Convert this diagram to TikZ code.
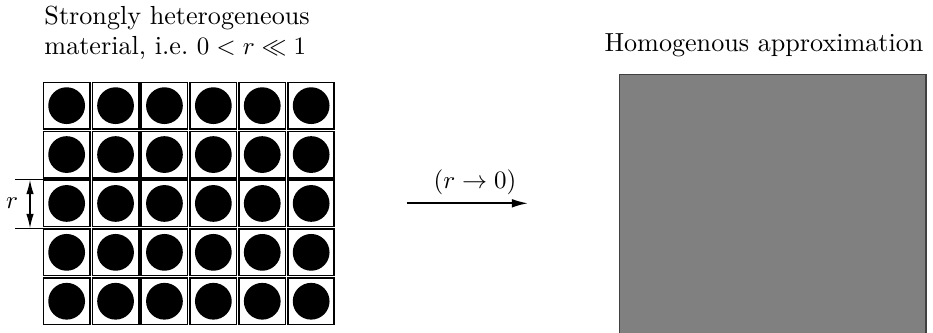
\documentclass[tikz,border=0pt]{standalone}
\usetikzlibrary{arrows.meta}
\begin{document}
\begin{tikzpicture}[x=0.4pt,y=-0.4pt,
  font=\fontsize{10.45pt}{12.2pt}\selectfont,
  cellbox/.style={draw=black,line width=0.7pt,minimum size=18.5pt,inner sep=0pt},
  dotc/.style={circle,fill=black,minimum size=14.7pt,inner sep=0pt},
  dimline/.style={line width=0.6pt},
  mainarrow/.style={line width=0.7pt,-{Latex[length=6.5pt,width=3.5pt]}},
  dimarrow/.style={line width=0.6pt,{Latex[length=5.8pt,width=3pt]}-{Latex[length=5.8pt,width=3pt]}},
  homsq/.style={fill=gray,draw=black!75,line width=0.6pt,minimum size=122.7pt,inner sep=0pt},
  lbl/.style={inner sep=0pt}]
\useasboundingbox (0,0) rectangle (933,333);
\clip (0,0) rectangle (933,333);
% titles
\node[lbl,align=left,anchor=north west] (title) at (44,5.5) {Strongly heterogeneous\\material, i.e.\ $0<r\ll1$};
\node[lbl,anchor=base] (htitle) at (764,51.7) {Homogenous approximation};
% grid of cells
\foreach \i in {0,...,5}{
  \foreach \j in {0,...,4}{
    \node[cellbox] (c\i\j) at ({42.2+24.45+48.9*\i},{81.2+24.45+48.9*\j}) {};
    \node[dotc] (d\i\j) at (c\i\j.center) {};
  }
}
% dimension r
\coordinate (dt0) at (15,179.6);
\coordinate (db0) at (15,228.4);
\coordinate (dt1) at (42.7,179.6);
\coordinate (db1) at (42.7,228.4);
\coordinate (at) at (30,179.6);
\coordinate (ab) at (30,228.4);
\draw[dimline] (dt0) -- (dt1);
\draw[dimline] (db0) -- (db1);
\draw[dimarrow] (at) -- (ab);
\node[lbl] (rlab) at (12,203) {$r$};
% main arrow
\coordinate (a1) at (406.7,203.3);
\coordinate (a2) at (528,203.3);
\draw[mainarrow] (a1) -- (a2);
\node[lbl] (alab) at (475,182) {$(r\to0)$};
% homogeneous square
\node[homsq] (hom) at (772.65,227.65) {};
\end{tikzpicture}
\end{document}
